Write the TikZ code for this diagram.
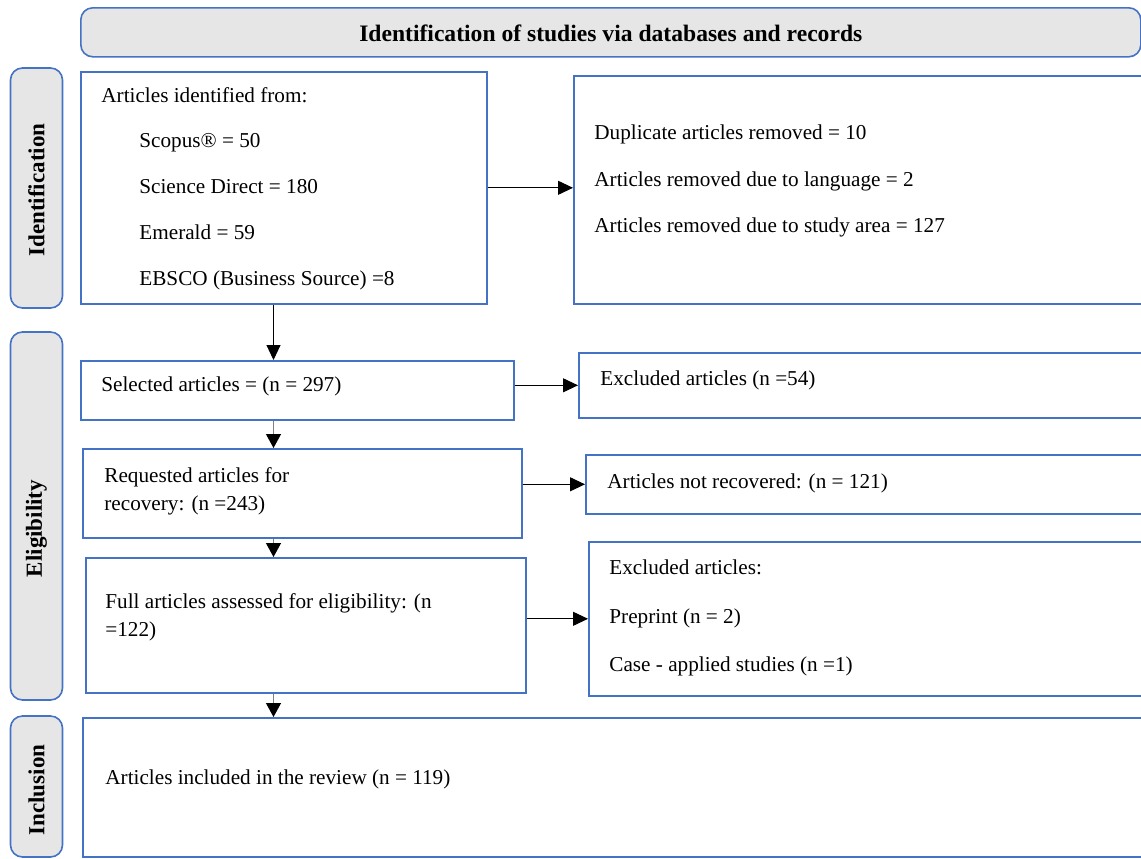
\documentclass[tikz,border=0pt]{standalone}
\usepackage{fontspec}
\setmainfont{Liberation Serif}
\usetikzlibrary{positioning}
\usetikzlibrary{arrows.meta}
\definecolor{boxblue}{HTML}{4472C4}
\definecolor{stagegray}{HTML}{E6E6E6}
\tikzstyle{box}=[rectangle,draw=boxblue,line width=0.8pt,fill=white,anchor=north west,inner sep=0pt]
\tikzstyle{stage}=[rectangle,rounded corners=6pt,draw=boxblue,line width=0.8pt,fill=stagegray,rotate=90,inner sep=0pt,font=\fontsize{11.5}{13}\selectfont\bfseries]
\tikzstyle{txt}=[anchor=west,inner sep=0pt,text height=0.66em,text depth=0pt,font=\fontsize{10.6}{13}\selectfont]
\tikzstyle{flow}=[-{Triangle[length=7.5pt,width=7pt]},line width=0.5pt]
\tikzstyle{downflow}=[-{Triangle[length=7pt,width=7.5pt,color=black]},draw=gray,line width=0.6pt]

\begin{document}
\begin{tikzpicture}[x=0.5pt,y=-0.5pt]
\useasboundingbox (0,0) rectangle (1141,858);
\clip (0,0) rectangle (1141,858);

%header
\node[box,fill=stagegray,rounded corners=6pt,minimum width=530pt,minimum height=24.5pt,text height=0.95em,text depth=0pt,font=\fontsize{11.8}{13}\selectfont\bfseries] (header) at (80,7) {Identification of studies via databases and records};

%stages
\foreach \pos/\name/\h/\label in {{(36.5,188)/stident/120pt/{\hspace*{-2pt}Identification}}, {(36.5,516)/stelig/184pt/{\hspace*{-12.5pt}Eligibility}}, {(36.5,786.5)/stincl/70.5pt/{\hspace*{-3.5pt}Inclusion}}}
    \node[stage,minimum width=\h,minimum height=26pt] (\name) at \pos {\label};

%boxes
\foreach \pos/\name/\w/\h in {{(80,71)/ident/203pt/116pt}, {(573,75)/removed/300pt/114pt},
    {(80,360)/selected/216.5pt/29.5pt}, {(578,352)/exclone/300pt/32.5pt},
    {(82,448)/requested/219.5pt/44.5pt}, {(585,454)/notrec/300pt/29.5pt},
    {(85,557)/full/220pt/67.5pt}, {(588,541)/excltwo/300pt/77pt},
    {(82,717)/included/560pt/69.5pt}}
    \node[box,minimum width=\w,minimum height=\h] (\name) at \pos {};

%texts
\node[txt] (srchead) at (101,96) {Articles identified from:};
\foreach \y/\name/\label in {141/scopus/{Scopus\textregistered{} = 50}, 187/scidirect/{Science Direct = 180}, 233/emerald/{Emerald = 59}, 279/ebsco/{EBSCO (Business Source) =8}}
    \node[txt] (\name) at (139,\y) {\label};
\foreach \y/\name/\label in {133/dup/{Duplicate articles removed = 10}, 180/lang/{Articles removed due to language = 2}, 226/area/{Articles removed due to study area = 127}}
    \node[txt] (\name) at (594,\y) {\label};
\node[txt] (seltxt) at (101,385) {Selected articles = (n = 297)};
\node[txt] (excltxt) at (600,379) {Excluded articles (n =54)};
\node[txt] (reqtxta) at (104,475.5) {Requested articles for};
\node[txt] (reqtxtb) at (104,503.5) {recovery: (n =243)};
\node[txt] (nrtxt) at (607,482) {Articles not recovered: (n = 121)};
\node[txt] (fulltxta) at (105,602) {Full articles assessed for eligibility: (n};
\node[txt] (fulltxtb) at (105,630) {=122)};
\foreach \y/\name/\label in {568/exhead/{Excluded articles:}, 617/preprint/{Preprint (n = 2)}, 665/casestud/{Case - applied studies (n =1)}}
    \node[txt] (\name) at (609,\y) {\label};
\node[txt] (inctxt) at (105,778) {Articles included in the review (n = 119)};

%arrows
\coordinate (spine) at (273.5,0);
\draw[flow] (ident.east) -- (ident.east -| removed.west);
\draw[flow] (exclone.west -| selected.east) -- (exclone.west);
\draw[flow] (notrec.west -| requested.east) -- (notrec.west);
\draw[flow] (excltwo.west -| full.east) -- (excltwo.west);
\draw[flow] (ident.south -| spine) -- (selected.north -| spine);
\foreach \source/\dest in {selected/requested, requested/full, full/included}
    \draw[downflow] (\source.south -| spine) -- (\dest.north -| spine);

\end{tikzpicture}
\end{document}
